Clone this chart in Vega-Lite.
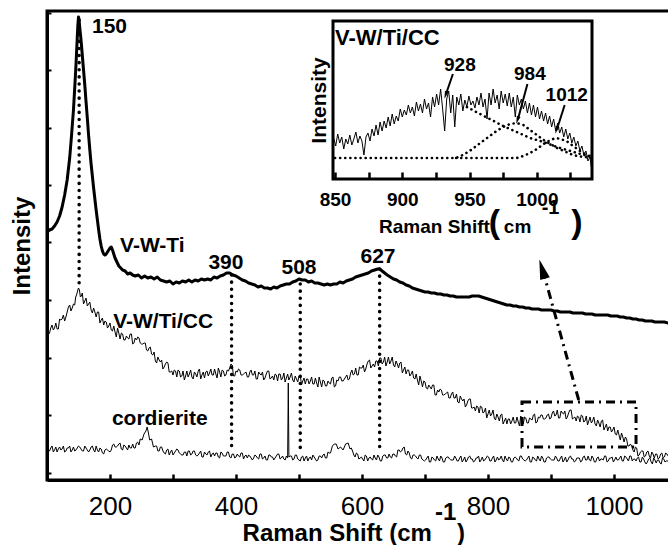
{
"$schema": "https://vega.github.io/schema/vega-lite/v6.json",
"width": 624, "height": 469,
"autosize": {"type": "none"},
"padding": {"left": 47, "top": 11, "right": 0, "bottom": 65},
"background": "white",
"config": {"view": {"stroke": "black", "strokeWidth": 3}, "font": "Liberation Sans", "axis": {"domainColor": "black", "tickColor": "black", "grid": false, "labelColor": "black", "titleColor": "black", "labelFont": "Liberation Sans", "titleFont": "Liberation Sans"}},
"datasets": {
"vwti": [{"x":100,"y":248},{"x":104,"y":250},{"x":108,"y":251},{"x":112,"y":254},{"x":116,"y":258},{"x":120,"y":264},{"x":124,"y":273},{"x":128,"y":285},{"x":132,"y":300},{"x":136,"y":322},{"x":139,"y":345},{"x":142,"y":370},{"x":144,"y":392},{"x":146,"y":415},{"x":148,"y":442},{"x":149,"y":455},{"x":150,"y":463},{"x":151,"y":460},{"x":152,"y":452},{"x":154,"y":440},{"x":156,"y":425},{"x":158,"y":410},{"x":160,"y":395},{"x":162,"y":378},{"x":164,"y":362},{"x":166,"y":345},{"x":168,"y":330},{"x":170,"y":316},{"x":172,"y":304},{"x":174,"y":292},{"x":176,"y":281},{"x":178,"y":270},{"x":180,"y":260},{"x":182,"y":250},{"x":184,"y":241},{"x":186,"y":234},{"x":188,"y":229},{"x":190,"y":226},{"x":192,"y":225},{"x":194,"y":226},{"x":196,"y":228},{"x":198,"y":230},{"x":200,"y":232},{"x":202,"y":233},{"x":204,"y":230},{"x":206,"y":226},{"x":208,"y":222},{"x":211,"y":218},{"x":214,"y":214},{"x":217,"y":212},{"x":220,"y":210},{"x":224,"y":209},{"x":228,"y":206},{"x":232,"y":207},{"x":236,"y":205},{"x":240,"y":204},{"x":245,"y":205},{"x":250,"y":202},{"x":255,"y":204},{"x":260,"y":202},{"x":265,"y":203},{"x":270,"y":201},{"x":275,"y":203},{"x":280,"y":200},{"x":285,"y":199},{"x":290,"y":198},{"x":295,"y":199},{"x":300,"y":196},{"x":305,"y":198},{"x":310,"y":197},{"x":315,"y":199},{"x":320,"y":198},{"x":325,"y":200},{"x":330,"y":198},{"x":335,"y":200},{"x":340,"y":199},{"x":345,"y":201},{"x":350,"y":200},{"x":355,"y":201},{"x":360,"y":200},{"x":365,"y":203},{"x":370,"y":202},{"x":375,"y":204},{"x":380,"y":205},{"x":385,"y":207},{"x":390,"y":207},{"x":395,"y":205},{"x":400,"y":204},{"x":405,"y":202},{"x":410,"y":200},{"x":415,"y":199},{"x":420,"y":197},{"x":425,"y":196},{"x":430,"y":195},{"x":435,"y":193},{"x":440,"y":194},{"x":445,"y":192},{"x":450,"y":192},{"x":455,"y":191},{"x":460,"y":193},{"x":465,"y":192},{"x":470,"y":194},{"x":475,"y":195},{"x":480,"y":196},{"x":485,"y":196},{"x":490,"y":198},{"x":495,"y":199},{"x":500,"y":201},{"x":505,"y":200},{"x":510,"y":200},{"x":515,"y":198},{"x":520,"y":199},{"x":525,"y":197},{"x":530,"y":197},{"x":535,"y":196},{"x":540,"y":195},{"x":545,"y":196},{"x":550,"y":195},{"x":555,"y":196},{"x":560,"y":196},{"x":565,"y":198},{"x":570,"y":197},{"x":575,"y":199},{"x":580,"y":200},{"x":585,"y":201},{"x":590,"y":203},{"x":595,"y":204},{"x":600,"y":205},{"x":605,"y":206},{"x":610,"y":207},{"x":615,"y":209},{"x":620,"y":210},{"x":625,"y":211},{"x":628,"y":211},{"x":632,"y":209},{"x":636,"y":207},{"x":640,"y":205},{"x":645,"y":203},{"x":650,"y":201},{"x":655,"y":200},{"x":660,"y":198},{"x":665,"y":197},{"x":670,"y":195},{"x":675,"y":194},{"x":680,"y":192},{"x":685,"y":191},{"x":690,"y":190},{"x":695,"y":189},{"x":700,"y":188},{"x":705,"y":188},{"x":710,"y":187},{"x":715,"y":187},{"x":720,"y":186},{"x":725,"y":186},{"x":730,"y":185},{"x":735,"y":185},{"x":740,"y":184},{"x":745,"y":184},{"x":750,"y":183},{"x":755,"y":183},{"x":760,"y":183},{"x":765,"y":183},{"x":770,"y":183},{"x":775,"y":184},{"x":780,"y":184},{"x":785,"y":184},{"x":790,"y":183},{"x":795,"y":182},{"x":800,"y":181},{"x":805,"y":180},{"x":810,"y":179},{"x":815,"y":178},{"x":820,"y":177},{"x":825,"y":176},{"x":830,"y":175},{"x":835,"y":175},{"x":840,"y":174},{"x":845,"y":174},{"x":850,"y":173},{"x":855,"y":173},{"x":860,"y":172},{"x":865,"y":172},{"x":870,"y":171},{"x":875,"y":171},{"x":880,"y":171},{"x":885,"y":170},{"x":890,"y":170},{"x":895,"y":170},{"x":900,"y":170},{"x":905,"y":169},{"x":910,"y":169},{"x":915,"y":168},{"x":920,"y":168},{"x":925,"y":168},{"x":930,"y":168},{"x":935,"y":167},{"x":940,"y":167},{"x":945,"y":167},{"x":950,"y":167},{"x":955,"y":166},{"x":960,"y":166},{"x":965,"y":166},{"x":970,"y":165},{"x":975,"y":165},{"x":980,"y":165},{"x":985,"y":165},{"x":990,"y":165},{"x":995,"y":164},{"x":1000,"y":164},{"x":1005,"y":164},{"x":1010,"y":163},{"x":1015,"y":163},{"x":1020,"y":162},{"x":1025,"y":162},{"x":1030,"y":161},{"x":1035,"y":161},{"x":1040,"y":160},{"x":1045,"y":160},{"x":1050,"y":159},{"x":1055,"y":159},{"x":1060,"y":159},{"x":1065,"y":158},{"x":1070,"y":158},{"x":1075,"y":158},{"x":1080,"y":158},{"x":1086,"y":157},{"x":1090,"y":157}],
"vwticc": [{"x":100,"y":150},{"x":104,"y":147},{"x":108,"y":155},{"x":112,"y":152},{"x":116,"y":151},{"x":120,"y":161},{"x":124,"y":161},{"x":128,"y":159},{"x":132,"y":168},{"x":136,"y":175},{"x":140,"y":172},{"x":144,"y":175},{"x":147,"y":185},{"x":150,"y":192},{"x":153,"y":183},{"x":156,"y":187},{"x":160,"y":179},{"x":164,"y":174},{"x":168,"y":178},{"x":172,"y":167},{"x":176,"y":168},{"x":180,"y":168},{"x":184,"y":157},{"x":188,"y":162},{"x":192,"y":159},{"x":196,"y":152},{"x":200,"y":157},{"x":204,"y":149},{"x":208,"y":148},{"x":212,"y":152},{"x":216,"y":141},{"x":220,"y":146},{"x":224,"y":140},{"x":228,"y":142},{"x":232,"y":146},{"x":236,"y":136},{"x":240,"y":142},{"x":244,"y":143},{"x":248,"y":137},{"x":252,"y":136},{"x":256,"y":137},{"x":260,"y":129},{"x":264,"y":133},{"x":268,"y":125},{"x":272,"y":119},{"x":276,"y":123},{"x":280,"y":118},{"x":284,"y":111},{"x":288,"y":116},{"x":292,"y":117},{"x":296,"y":108},{"x":300,"y":105},{"x":304,"y":109},{"x":308,"y":110},{"x":312,"y":103},{"x":316,"y":109},{"x":320,"y":104},{"x":324,"y":103},{"x":328,"y":110},{"x":332,"y":101},{"x":336,"y":106},{"x":340,"y":109},{"x":344,"y":101},{"x":348,"y":108},{"x":352,"y":108},{"x":356,"y":104},{"x":360,"y":111},{"x":364,"y":105},{"x":368,"y":106},{"x":372,"y":112},{"x":376,"y":103},{"x":380,"y":109},{"x":384,"y":105},{"x":388,"y":109},{"x":392,"y":116},{"x":396,"y":104},{"x":400,"y":109},{"x":404,"y":111},{"x":408,"y":105},{"x":412,"y":106},{"x":416,"y":108},{"x":420,"y":103},{"x":424,"y":110},{"x":428,"y":105},{"x":432,"y":101},{"x":436,"y":108},{"x":440,"y":105},{"x":444,"y":100},{"x":448,"y":106},{"x":452,"y":109},{"x":456,"y":102},{"x":460,"y":100},{"x":464,"y":105},{"x":468,"y":106},{"x":472,"y":100},{"x":476,"y":107},{"x":480,"y":102},{"x":484,"y":100},{"x":488,"y":107},{"x":492,"y":98},{"x":496,"y":101},{"x":500,"y":104},{"x":504,"y":95},{"x":508,"y":102},{"x":512,"y":101},{"x":516,"y":96},{"x":520,"y":103},{"x":524,"y":96},{"x":528,"y":97},{"x":532,"y":103},{"x":536,"y":93},{"x":540,"y":99},{"x":544,"y":94},{"x":548,"y":97},{"x":552,"y":102},{"x":556,"y":93},{"x":560,"y":100},{"x":564,"y":103},{"x":568,"y":99},{"x":572,"y":101},{"x":576,"y":105},{"x":580,"y":101},{"x":584,"y":110},{"x":588,"y":106},{"x":592,"y":105},{"x":596,"y":113},{"x":600,"y":112},{"x":604,"y":108},{"x":608,"y":116},{"x":612,"y":120},{"x":616,"y":114},{"x":620,"y":113},{"x":624,"y":119},{"x":628,"y":122},{"x":632,"y":116},{"x":636,"y":123},{"x":640,"y":118},{"x":644,"y":116},{"x":648,"y":123},{"x":652,"y":113},{"x":656,"y":116},{"x":660,"y":117},{"x":664,"y":107},{"x":668,"y":113},{"x":672,"y":110},{"x":676,"y":104},{"x":680,"y":109},{"x":684,"y":101},{"x":688,"y":100},{"x":692,"y":104},{"x":696,"y":93},{"x":700,"y":98},{"x":704,"y":91},{"x":708,"y":93},{"x":712,"y":95},{"x":716,"y":85},{"x":720,"y":90},{"x":724,"y":91},{"x":728,"y":85},{"x":732,"y":86},{"x":736,"y":88},{"x":740,"y":82},{"x":744,"y":88},{"x":748,"y":82},{"x":752,"y":78},{"x":756,"y":84},{"x":760,"y":79},{"x":764,"y":73},{"x":768,"y":79},{"x":772,"y":81},{"x":776,"y":72},{"x":780,"y":69},{"x":784,"y":73},{"x":788,"y":74},{"x":792,"y":67},{"x":796,"y":72},{"x":800,"y":66},{"x":804,"y":64},{"x":808,"y":70},{"x":812,"y":60},{"x":816,"y":63},{"x":820,"y":65},{"x":824,"y":56},{"x":828,"y":62},{"x":832,"y":61},{"x":836,"y":56},{"x":840,"y":63},{"x":844,"y":57},{"x":848,"y":58},{"x":852,"y":64},{"x":856,"y":56},{"x":860,"y":62},{"x":864,"y":57},{"x":868,"y":61},{"x":872,"y":65},{"x":876,"y":57},{"x":880,"y":63},{"x":884,"y":65},{"x":888,"y":61},{"x":892,"y":62},{"x":896,"y":66},{"x":900,"y":62},{"x":904,"y":69},{"x":908,"y":65},{"x":912,"y":62},{"x":916,"y":69},{"x":920,"y":66},{"x":924,"y":61},{"x":928,"y":67},{"x":932,"y":70},{"x":936,"y":62},{"x":940,"y":59},{"x":944,"y":63},{"x":948,"y":65},{"x":952,"y":58},{"x":956,"y":64},{"x":960,"y":59},{"x":964,"y":57},{"x":968,"y":63},{"x":972,"y":54},{"x":976,"y":57},{"x":980,"y":59},{"x":984,"y":50},{"x":988,"y":56},{"x":992,"y":53},{"x":996,"y":48},{"x":1000,"y":53},{"x":1004,"y":45},{"x":1008,"y":45},{"x":1012,"y":47},{"x":1016,"y":38},{"x":1020,"y":41},{"x":1024,"y":34},{"x":1028,"y":34},{"x":1032,"y":28},{"x":1036,"y":32},{"x":1040,"y":25},{"x":1044,"y":29},{"x":1048,"y":23},{"x":1052,"y":28},{"x":1056,"y":24},{"x":1060,"y":28},{"x":1064,"y":22},{"x":1068,"y":26},{"x":1072,"y":22},{"x":1076,"y":27},{"x":1080,"y":23},{"x":1084,"y":26},{"x":1086,"y":24},{"x":1090,"y":25},
{"x":102,"y":145},{"x":106,"y":152},{"x":110,"y":150},{"x":114,"y":157},{"x":118,"y":151},{"x":122,"y":160},{"x":126,"y":165},{"x":130,"y":163},{"x":134,"y":173},{"x":138,"y":169},{"x":142,"y":176},{"x":145.5,"y":183},{"x":148.5,"y":189},{"x":151.5,"y":190},{"x":154.5,"y":184},{"x":158,"y":176},{"x":162,"y":182},{"x":166,"y":176},{"x":170,"y":170},{"x":174,"y":172},{"x":178,"y":163},{"x":182,"y":168},{"x":186,"y":160},{"x":190,"y":155},{"x":194,"y":158},{"x":198,"y":154},{"x":202,"y":150},{"x":206,"y":154},{"x":210,"y":143},{"x":214,"y":147},{"x":218,"y":147},{"x":222,"y":140},{"x":226,"y":144},{"x":230,"y":141},{"x":234,"y":146},{"x":238,"y":137},{"x":242,"y":140},{"x":246,"y":142},{"x":250,"y":136},{"x":254,"y":137},{"x":258,"y":130},{"x":262,"y":132},{"x":266,"y":126},{"x":270,"y":128},{"x":274,"y":117},{"x":278,"y":120},{"x":282,"y":120},{"x":286,"y":113},{"x":290,"y":118},{"x":294,"y":108},{"x":298,"y":109},{"x":302,"y":110},{"x":306,"y":103},{"x":310,"y":109},{"x":314,"y":104},{"x":318,"y":100},{"x":322,"y":109},{"x":326,"y":106},{"x":330,"y":103},{"x":334,"y":108},{"x":338,"y":103},{"x":342,"y":111},{"x":346,"y":105},{"x":350,"y":102},{"x":354,"y":109},{"x":358,"y":107},{"x":362,"y":105},{"x":366,"y":111},{"x":370,"y":102},{"x":374,"y":108},{"x":378,"y":110},{"x":382,"y":104},{"x":386,"y":110},{"x":390,"y":112},{"x":394,"y":115},{"x":398,"y":104},{"x":402,"y":108},{"x":406,"y":110},{"x":410,"y":105},{"x":414,"y":107},{"x":418,"y":103},{"x":422,"y":108},{"x":426,"y":105},{"x":430,"y":109},{"x":434,"y":101},{"x":438,"y":106},{"x":442,"y":108},{"x":446,"y":102},{"x":450,"y":109},{"x":454,"y":101},{"x":458,"y":104},{"x":462,"y":106},{"x":466,"y":99},{"x":470,"y":106},{"x":474,"y":102},{"x":478,"y":98},{"x":482,"y":106},{"x":486,"y":103},{"x":490,"y":100},{"x":494,"y":104},{"x":498,"y":98},{"x":502,"y":105},{"x":506,"y":99},{"x":510,"y":96},{"x":514,"y":101},{"x":518,"y":99},{"x":522,"y":96},{"x":526,"y":102},{"x":530,"y":93},{"x":534,"y":98},{"x":538,"y":100},{"x":542,"y":94},{"x":546,"y":99},{"x":550,"y":96},{"x":554,"y":103},{"x":558,"y":94},{"x":562,"y":99},{"x":566,"y":103},{"x":570,"y":99},{"x":574,"y":103},{"x":578,"y":100},{"x":582,"y":107},{"x":586,"y":105},{"x":590,"y":112},{"x":594,"y":105},{"x":598,"y":112},{"x":602,"y":115},{"x":606,"y":111},{"x":610,"y":119},{"x":614,"y":112},{"x":618,"y":116},{"x":622,"y":119},{"x":626,"y":114},{"x":630,"y":122},{"x":634,"y":118},{"x":638,"y":114},{"x":642,"y":123},{"x":646,"y":119},{"x":650,"y":115},{"x":654,"y":119},{"x":658,"y":112},{"x":662,"y":118},{"x":666,"y":110},{"x":670,"y":106},{"x":674,"y":110},{"x":678,"y":106},{"x":682,"y":102},{"x":686,"y":106},{"x":690,"y":95},{"x":694,"y":99},{"x":698,"y":99},{"x":702,"y":92},{"x":706,"y":95},{"x":710,"y":91},{"x":714,"y":95},{"x":718,"y":85},{"x":722,"y":88},{"x":726,"y":90},{"x":730,"y":85},{"x":734,"y":87},{"x":738,"y":82},{"x":742,"y":86},{"x":746,"y":82},{"x":750,"y":86},{"x":754,"y":77},{"x":758,"y":81},{"x":762,"y":81},{"x":766,"y":75},{"x":770,"y":81},{"x":774,"y":72},{"x":778,"y":73},{"x":782,"y":74},{"x":786,"y":67},{"x":790,"y":73},{"x":794,"y":68},{"x":798,"y":62},{"x":802,"y":70},{"x":806,"y":66},{"x":810,"y":62},{"x":814,"y":66},{"x":818,"y":59},{"x":822,"y":66},{"x":826,"y":59},{"x":830,"y":56},{"x":834,"y":61},{"x":838,"y":59},{"x":842,"y":57},{"x":846,"y":63},{"x":850,"y":54},{"x":854,"y":60},{"x":858,"y":63},{"x":862,"y":57},{"x":866,"y":62},{"x":870,"y":60},{"x":874,"y":66},{"x":878,"y":58},{"x":882,"y":62},{"x":886,"y":65},{"x":890,"y":61},{"x":894,"y":65},{"x":898,"y":61},{"x":902,"y":67},{"x":906,"y":64},{"x":910,"y":70},{"x":914,"y":62},{"x":918,"y":67},{"x":922,"y":69},{"x":926,"y":63},{"x":930,"y":70},{"x":934,"y":61},{"x":938,"y":63},{"x":942,"y":64},{"x":946,"y":58},{"x":950,"y":64},{"x":954,"y":59},{"x":958,"y":55},{"x":962,"y":63},{"x":966,"y":59},{"x":970,"y":56},{"x":974,"y":60},{"x":978,"y":53},{"x":982,"y":60},{"x":986,"y":53},{"x":990,"y":49},{"x":994,"y":53},{"x":998,"y":50},{"x":1002,"y":46},{"x":1006,"y":50},{"x":1010,"y":40},{"x":1014,"y":43},{"x":1018,"y":43},{"x":1022,"y":34},{"x":1026,"y":36},{"x":1030,"y":30},{"x":1034,"y":33},{"x":1038,"y":24},{"x":1042,"y":28},{"x":1046,"y":29},{"x":1050,"y":24},{"x":1054,"y":29},{"x":1058,"y":22},{"x":1062,"y":26},{"x":1066,"y":26},{"x":1070,"y":21},{"x":1074,"y":26},{"x":1078,"y":22},{"x":1082,"y":27},{"x":1088,"y":22}],
"cord": [{"x":100,"y":32},{"x":104,"y":29},{"x":108,"y":34},{"x":112,"y":30},{"x":116,"y":28},{"x":120,"y":33},{"x":124,"y":31},{"x":128,"y":28},{"x":132,"y":32},{"x":136,"y":34},{"x":140,"y":30},{"x":144,"y":29},{"x":148,"y":32},{"x":152,"y":33},{"x":156,"y":29},{"x":160,"y":34},{"x":164,"y":30},{"x":168,"y":30},{"x":172,"y":34},{"x":176,"y":28},{"x":180,"y":30},{"x":184,"y":32},{"x":188,"y":27},{"x":192,"y":30},{"x":196,"y":30},{"x":200,"y":28},{"x":204,"y":35},{"x":208,"y":33},{"x":212,"y":34},{"x":216,"y":37},{"x":220,"y":30},{"x":224,"y":34},{"x":228,"y":30},{"x":232,"y":32},{"x":236,"y":36},{"x":240,"y":32},{"x":244,"y":38},{"x":248,"y":41},{"x":251,"y":40},{"x":254,"y":46},{"x":257,"y":49},{"x":259,"y":53},{"x":261,"y":47},{"x":263,"y":40},{"x":266,"y":41},{"x":269,"y":33},{"x":272,"y":34},{"x":276,"y":29},{"x":280,"y":33},{"x":284,"y":29},{"x":288,"y":26},{"x":292,"y":31},{"x":296,"y":28},{"x":300,"y":25},{"x":304,"y":29},{"x":308,"y":30},{"x":312,"y":26},{"x":316,"y":25},{"x":320,"y":28},{"x":324,"y":29},{"x":328,"y":25},{"x":332,"y":29},{"x":336,"y":25},{"x":340,"y":25},{"x":344,"y":29},{"x":348,"y":23},{"x":352,"y":26},{"x":356,"y":28},{"x":360,"y":23},{"x":364,"y":27},{"x":368,"y":27},{"x":372,"y":23},{"x":376,"y":28},{"x":380,"y":24},{"x":384,"y":24},{"x":388,"y":28},{"x":392,"y":22},{"x":396,"y":26},{"x":400,"y":23},{"x":404,"y":24},{"x":408,"y":27},{"x":412,"y":21},{"x":416,"y":25},{"x":420,"y":25},{"x":424,"y":22},{"x":428,"y":22},{"x":432,"y":24},{"x":436,"y":21},{"x":440,"y":26},{"x":444,"y":22},{"x":448,"y":20},{"x":452,"y":25},{"x":456,"y":23},{"x":460,"y":20},{"x":464,"y":24},{"x":468,"y":26},{"x":472,"y":22},{"x":476,"y":21},{"x":480,"y":24},{"x":482,"y":22},{"x":483,"y":97},{"x":484,"y":23},{"x":486,"y":24},{"x":490,"y":20},{"x":494,"y":25},{"x":498,"y":21},{"x":502,"y":19},{"x":506,"y":24},{"x":510,"y":22},{"x":514,"y":19},{"x":518,"y":23},{"x":522,"y":25},{"x":526,"y":21},{"x":530,"y":20},{"x":534,"y":24},{"x":538,"y":25},{"x":542,"y":22},{"x":546,"y":28},{"x":550,"y":27},{"x":553,"y":34},{"x":556,"y":36},{"x":559,"y":36},{"x":562,"y":31},{"x":566,"y":33},{"x":570,"y":30},{"x":574,"y":36},{"x":578,"y":37},{"x":581,"y":31},{"x":585,"y":29},{"x":589,"y":23},{"x":593,"y":26},{"x":597,"y":22},{"x":601,"y":21},{"x":605,"y":25},{"x":609,"y":19},{"x":613,"y":23},{"x":617,"y":20},{"x":621,"y":22},{"x":625,"y":25},{"x":629,"y":19},{"x":633,"y":24},{"x":637,"y":25},{"x":641,"y":22},{"x":645,"y":23},{"x":649,"y":26},{"x":653,"y":24},{"x":657,"y":30},{"x":661,"y":28},{"x":665,"y":32},{"x":669,"y":26},{"x":673,"y":29},{"x":677,"y":22},{"x":681,"y":25},{"x":685,"y":24},{"x":689,"y":21},{"x":693,"y":25},{"x":697,"y":20},{"x":701,"y":20},{"x":705,"y":24},{"x":709,"y":18},{"x":713,"y":22},{"x":717,"y":19},{"x":721,"y":21},{"x":725,"y":24},{"x":729,"y":18},{"x":733,"y":22},{"x":737,"y":23},{"x":741,"y":20},{"x":745,"y":20},{"x":749,"y":22},{"x":753,"y":19},{"x":757,"y":24},{"x":761,"y":20},{"x":765,"y":18},{"x":769,"y":23},{"x":773,"y":21},{"x":777,"y":18},{"x":781,"y":22},{"x":785,"y":24},{"x":789,"y":20},{"x":793,"y":19},{"x":797,"y":22},{"x":801,"y":23},{"x":805,"y":19},{"x":809,"y":24},{"x":813,"y":20},{"x":817,"y":20},{"x":821,"y":24},{"x":825,"y":18},{"x":829,"y":21},{"x":833,"y":23},{"x":837,"y":18},{"x":841,"y":22},{"x":845,"y":22},{"x":849,"y":19},{"x":853,"y":24},{"x":857,"y":20},{"x":861,"y":20},{"x":865,"y":24},{"x":869,"y":18},{"x":873,"y":22},{"x":877,"y":19},{"x":881,"y":21},{"x":885,"y":24},{"x":889,"y":18},{"x":893,"y":22},{"x":897,"y":23},{"x":901,"y":20},{"x":905,"y":20},{"x":909,"y":22},{"x":913,"y":19},{"x":917,"y":24},{"x":921,"y":20},{"x":925,"y":18},{"x":929,"y":23},{"x":933,"y":21},{"x":937,"y":18},{"x":941,"y":22},{"x":945,"y":22},{"x":949,"y":19},{"x":953,"y":24},{"x":957,"y":20},{"x":961,"y":20},{"x":965,"y":24},{"x":969,"y":18},{"x":973,"y":22},{"x":977,"y":19},{"x":981,"y":21},{"x":985,"y":24},{"x":989,"y":18},{"x":993,"y":22},{"x":997,"y":23},{"x":1001,"y":20},{"x":1005,"y":20},{"x":1009,"y":22},{"x":1013,"y":19},{"x":1017,"y":24},{"x":1021,"y":21},{"x":1025,"y":24},{"x":1029,"y":19},{"x":1033,"y":21},{"x":1037,"y":22},{"x":1041,"y":18},{"x":1045,"y":23},{"x":1049,"y":18},{"x":1053,"y":18},{"x":1057,"y":22},{"x":1061,"y":16},{"x":1065,"y":20},{"x":1069,"y":20},{"x":1073,"y":17},{"x":1077,"y":22},{"x":1081,"y":18},{"x":1086,"y":19},{"x":1090,"y":18},
{"x":102,"y":29},{"x":106,"y":32},{"x":110,"y":28},{"x":114,"y":33},{"x":118,"y":31},{"x":122,"y":30},{"x":126,"y":34},{"x":130,"y":29},{"x":134,"y":32},{"x":138,"y":28},{"x":142,"y":33},{"x":146,"y":30},{"x":150,"y":34},{"x":154,"y":31},{"x":158,"y":29},{"x":162,"y":32},{"x":166,"y":28},{"x":170,"y":33},{"x":174,"y":30},{"x":178,"y":34},{"x":182,"y":28},{"x":186,"y":31},{"x":190,"y":26},{"x":194,"y":31},{"x":198,"y":29},{"x":202,"y":30},{"x":206,"y":36},{"x":210,"y":33},{"x":214,"y":36},{"x":218,"y":31},{"x":222,"y":35},{"x":226,"y":32},{"x":230,"y":35},{"x":234,"y":32},{"x":238,"y":32},{"x":242,"y":37},{"x":246,"y":35},{"x":274,"y":34},{"x":278,"y":29},{"x":282,"y":33},{"x":286,"y":27},{"x":290,"y":30},{"x":294,"y":25},{"x":298,"y":30},{"x":302,"y":27},{"x":306,"y":31},{"x":310,"y":27},{"x":314,"y":25},{"x":318,"y":28},{"x":322,"y":24},{"x":326,"y":29},{"x":330,"y":26},{"x":334,"y":29},{"x":338,"y":24},{"x":342,"y":27},{"x":346,"y":23},{"x":350,"y":28},{"x":354,"y":25},{"x":358,"y":29},{"x":362,"y":26},{"x":366,"y":24},{"x":370,"y":27},{"x":374,"y":22},{"x":378,"y":27},{"x":382,"y":24},{"x":386,"y":28},{"x":390,"y":23},{"x":394,"y":26},{"x":398,"y":22},{"x":402,"y":26},{"x":406,"y":23},{"x":410,"y":27},{"x":414,"y":24},{"x":418,"y":22},{"x":422,"y":24},{"x":426,"y":20},{"x":430,"y":25},{"x":434,"y":22},{"x":438,"y":26},{"x":442,"y":21},{"x":446,"y":24},{"x":450,"y":20},{"x":454,"y":25},{"x":458,"y":23},{"x":462,"y":22},{"x":466,"y":26},{"x":470,"y":21},{"x":474,"y":24},{"x":478,"y":20},{"x":488,"y":24},{"x":492,"y":21},{"x":496,"y":25},{"x":500,"y":20},{"x":504,"y":23},{"x":508,"y":19},{"x":512,"y":24},{"x":516,"y":22},{"x":520,"y":20},{"x":524,"y":23},{"x":528,"y":19},{"x":532,"y":24},{"x":536,"y":22},{"x":540,"y":26},{"x":544,"y":22},{"x":548,"y":27},{"x":583,"y":32},{"x":587,"y":25},{"x":591,"y":27},{"x":595,"y":21},{"x":599,"y":23},{"x":603,"y":19},{"x":607,"y":24},{"x":611,"y":22},{"x":615,"y":21},{"x":619,"y":25},{"x":623,"y":20},{"x":627,"y":23},{"x":631,"y":19},{"x":635,"y":25},{"x":639,"y":22},{"x":643,"y":26},{"x":647,"y":22},{"x":651,"y":26},{"x":655,"y":23},{"x":659,"y":30},{"x":663,"y":29},{"x":667,"y":33},{"x":671,"y":25},{"x":675,"y":27},{"x":679,"y":21},{"x":683,"y":25},{"x":687,"y":22},{"x":691,"y":25},{"x":695,"y":21},{"x":699,"y":19},{"x":703,"y":22},{"x":707,"y":18},{"x":711,"y":23},{"x":715,"y":20},{"x":719,"y":24},{"x":723,"y":19},{"x":727,"y":22},{"x":731,"y":18},{"x":735,"y":23},{"x":739,"y":21},{"x":743,"y":20},{"x":747,"y":24},{"x":751,"y":19},{"x":755,"y":22},{"x":759,"y":18},{"x":763,"y":23},{"x":767,"y":20},{"x":771,"y":24},{"x":775,"y":21},{"x":779,"y":19},{"x":783,"y":22},{"x":787,"y":18},{"x":791,"y":23},{"x":795,"y":20},{"x":799,"y":24},{"x":803,"y":19},{"x":807,"y":22},{"x":811,"y":18},{"x":815,"y":23},{"x":819,"y":21},{"x":823,"y":20},{"x":827,"y":24},{"x":831,"y":19},{"x":835,"y":22},{"x":839,"y":18},{"x":843,"y":23},{"x":847,"y":20},{"x":851,"y":24},{"x":855,"y":21},{"x":859,"y":19},{"x":863,"y":22},{"x":867,"y":18},{"x":871,"y":23},{"x":875,"y":20},{"x":879,"y":24},{"x":883,"y":19},{"x":887,"y":22},{"x":891,"y":18},{"x":895,"y":23},{"x":899,"y":21},{"x":903,"y":20},{"x":907,"y":24},{"x":911,"y":19},{"x":915,"y":22},{"x":919,"y":18},{"x":923,"y":23},{"x":927,"y":20},{"x":931,"y":24},{"x":935,"y":21},{"x":939,"y":19},{"x":943,"y":22},{"x":947,"y":18},{"x":951,"y":23},{"x":955,"y":20},{"x":959,"y":24},{"x":963,"y":19},{"x":967,"y":22},{"x":971,"y":18},{"x":975,"y":23},{"x":979,"y":21},{"x":983,"y":20},{"x":987,"y":24},{"x":991,"y":19},{"x":995,"y":22},{"x":999,"y":18},{"x":1003,"y":23},{"x":1007,"y":20},{"x":1011,"y":24},{"x":1015,"y":19},{"x":1019,"y":23},{"x":1023,"y":19},{"x":1027,"y":24},{"x":1031,"y":21},{"x":1035,"y":19},{"x":1039,"y":23},{"x":1043,"y":18},{"x":1047,"y":21},{"x":1051,"y":16},{"x":1055,"y":21},{"x":1059,"y":18},{"x":1063,"y":22},{"x":1067,"y":17},{"x":1071,"y":20},{"x":1075,"y":16},{"x":1079,"y":21},{"x":1083,"y":19}],
"vlines": [{"x":151,"y":460,"y2":193},{"x":393,"y":205,"y2":31},{"x":502,"y":196,"y2":30},{"x":628,"y":211,"y2":33}],
"box": [{"x":854,"x2":1035,"y":33,"y2":78}],
"arrow": [{"x":944,"y":80,"x2":890,"y2":203}],
"arrowhead": [{"x":886,"y":211}],
"labL": [{"x":171.4,"y":447,"t":"150"},{"x":216,"y":228,"t":"V-W-Ti"},{"x":205,"y":152,"t":"V-W/Ti/CC"},{"x":203,"y":55,"t":"cordierite"}],
"labC": [{"x":384,"y":211,"t":"390"},{"x":500,"y":206,"t":"508"},{"x":625.4,"y":217,"t":"627"}],
"xtitle": [{"x":711,"y":-61,"t":"Raman Shift (cm"}],
"xtitleL": [{"x":716,"y":-40,"t":"-1"},{"x":751,"y":-61,"t":")"}],
"inset": [{"x":849,"y":41},{"x":850.5,"y":33},{"x":852,"y":45},{"x":853.5,"y":36},{"x":855,"y":42},{"x":856.5,"y":30},{"x":858,"y":40},{"x":859.5,"y":35},{"x":861,"y":44},{"x":862.5,"y":34},{"x":864,"y":40},{"x":865.5,"y":47},{"x":867,"y":36},{"x":868.5,"y":43},{"x":870,"y":38},{"x":871.5,"y":24},{"x":873,"y":42},{"x":874.5,"y":46},{"x":876,"y":38},{"x":877.5,"y":50},{"x":879,"y":43},{"x":880.5,"y":54},{"x":882,"y":44},{"x":883.5,"y":57},{"x":885,"y":48},{"x":886.5,"y":58},{"x":888,"y":51},{"x":889.5,"y":62},{"x":891,"y":53},{"x":892.5,"y":65},{"x":894,"y":55},{"x":895.5,"y":63},{"x":897,"y":58},{"x":898.5,"y":70},{"x":900,"y":62},{"x":901.5,"y":69},{"x":903,"y":64},{"x":904.5,"y":74},{"x":906,"y":66},{"x":907.5,"y":72},{"x":909,"y":63},{"x":910.5,"y":77},{"x":912,"y":68},{"x":913.5,"y":75},{"x":915,"y":66},{"x":916.5,"y":80},{"x":918,"y":70},{"x":919.5,"y":76},{"x":921,"y":62},{"x":922.5,"y":82},{"x":924,"y":72},{"x":925.5,"y":85},{"x":927,"y":74},{"x":928.5,"y":90},{"x":930,"y":70},{"x":931.5,"y":48},{"x":933,"y":80},{"x":934.5,"y":88},{"x":936,"y":66},{"x":937.5,"y":84},{"x":939,"y":52},{"x":940.5,"y":82},{"x":942,"y":74},{"x":943.5,"y":85},{"x":945,"y":68},{"x":946.5,"y":79},{"x":948,"y":72},{"x":949.5,"y":83},{"x":951,"y":74},{"x":952.5,"y":78},{"x":954,"y":71},{"x":955.5,"y":82},{"x":957,"y":74},{"x":958.5,"y":86},{"x":960,"y":72},{"x":961.5,"y":80},{"x":963,"y":60},{"x":964.5,"y":86},{"x":966,"y":74},{"x":967.5,"y":90},{"x":969,"y":76},{"x":970.5,"y":84},{"x":972,"y":70},{"x":973.5,"y":88},{"x":975,"y":76},{"x":976.5,"y":85},{"x":978,"y":73},{"x":979.5,"y":86},{"x":981,"y":72},{"x":982.5,"y":82},{"x":984,"y":62},{"x":985.5,"y":84},{"x":987,"y":74},{"x":988.5,"y":80},{"x":990,"y":70},{"x":991.5,"y":78},{"x":993,"y":66},{"x":994.5,"y":76},{"x":996,"y":64},{"x":997.5,"y":74},{"x":999,"y":62},{"x":1000.5,"y":72},{"x":1002,"y":60},{"x":1003.5,"y":68},{"x":1005,"y":58},{"x":1006.5,"y":66},{"x":1008,"y":55},{"x":1009.5,"y":63},{"x":1011,"y":52},{"x":1012.5,"y":60},{"x":1014,"y":48},{"x":1015.5,"y":56},{"x":1017,"y":46},{"x":1018.5,"y":52},{"x":1020,"y":42},{"x":1021.5,"y":50},{"x":1023,"y":40},{"x":1024.5,"y":46},{"x":1026,"y":36},{"x":1027.5,"y":42},{"x":1029,"y":33},{"x":1030.5,"y":38},{"x":1032,"y":28},{"x":1033.5,"y":33},{"x":1035,"y":24},{"x":1036.5,"y":28},{"x":1038,"y":18},{"x":1039.5,"y":22},{"x":1040.5,"y":12}],
"fit": [{"p":"a","x":948,"y":72},{"p":"a","x":955,"y":67},{"p":"a","x":965,"y":60},{"p":"a","x":975,"y":53},{"p":"a","x":985,"y":47},{"p":"a","x":995,"y":41},{"p":"a","x":1005,"y":37},{"p":"a","x":1015,"y":32},{"p":"a","x":1025,"y":28},{"p":"a","x":1035,"y":24},{"p":"a","x":1041,"y":23},
{"p":"b","x":850,"y":21},{"p":"b","x":940,"y":21},{"p":"b","x":945,"y":24},{"p":"b","x":950,"y":28},{"p":"b","x":955,"y":33},{"p":"b","x":960,"y":38},{"p":"b","x":965,"y":43},{"p":"b","x":970,"y":48},{"p":"b","x":975,"y":52},{"p":"b","x":980,"y":55},{"p":"b","x":985,"y":56},{"p":"b","x":990,"y":54},{"p":"b","x":995,"y":49},{"p":"b","x":1000,"y":44},{"p":"b","x":1005,"y":39},{"p":"b","x":1010,"y":35},{"p":"b","x":1015,"y":31},{"p":"b","x":1020,"y":28},{"p":"b","x":1025,"y":25},{"p":"b","x":1030,"y":23},{"p":"b","x":1035,"y":22},{"p":"b","x":1041,"y":21},
{"p":"c","x":940,"y":21},{"p":"c","x":985,"y":21},{"p":"c","x":990,"y":23},{"p":"c","x":995,"y":26},{"p":"c","x":1000,"y":30},{"p":"c","x":1005,"y":35},{"p":"c","x":1010,"y":39},{"p":"c","x":1014,"y":41},{"p":"c","x":1018,"y":40},{"p":"c","x":1023,"y":37},{"p":"c","x":1028,"y":32},{"p":"c","x":1033,"y":27},{"p":"c","x":1038,"y":23},{"p":"c","x":1041,"y":22}],
"iframe": [{"x":848.5,"x2":1041,"y":0,"y2":158}],
"iarrows": [{"x":937.6,"y":105,"x2":932.5,"y2":85},{"x":993,"y":95,"x2":986,"y2":60},{"x":1020.7,"y":74,"x2":1015,"y2":50}],
"iheads": [{"x":932.2,"y":84},{"x":985.6,"y":59},{"x":1014.6,"y":49}],
"ititle": [{"x":850,"y":134,"t":"V-W/Ti/CC"}],
"ilabels": [{"x":942.8,"y":108,"t":"928"},{"x":994.8,"y":99,"t":"984"},{"x":1022.2,"y":78,"t":"1012"}],
"ixt": [{"x":882.7,"y":-54,"t":"Raman Shift"},{"x":975.5,"y":-54,"t":"cm"}],
"ixsup": [{"x":1003.6,"y":-35,"t":"-1"}],
"ixparen": [{"x":964.3,"y":-54,"t":"("},{"x":1025.5,"y":-54,"t":")"}]
},
"layer": [
{
"encoding": {
"x": {"field": "x", "type": "quantitative", "scale": {"domain": [100, 1090.5], "nice": false, "zero": false},
 "axis": {"orient": "bottom", "values": [200,300,400,500,600,700,800,900,1000], "format": "d", "labelExpr": "datum.value % 200 === 0 ? datum.label : ''", "ticks": true, "tickSize": -6, "tickWidth": 2.5, "domainWidth": 3, "labelFontSize": 26, "labelPadding": 19, "labelFlush": false, "labelOverlap": false, "title": null}},
"y": {"field": "y", "type": "quantitative", "scale": {"domain": [0, 469], "nice": false, "zero": false},
 "axis": {"values": [7.5,65,122.5,180,237.5,295,352.5,410,467.5], "labels": false, "tickSize": -4, "tickWidth": 2, "domainWidth": 3, "title": "Intensity", "titleFontSize": 24, "titleFontWeight": "bold", "titlePadding": 12}}
},
"layer": [
{"data": {"name": "vwti"}, "mark": {"type": "line", "color": "black", "strokeWidth": 3, "strokeJoin": "round"}},
{"data": {"name": "vwticc"}, "mark": {"type": "line", "color": "black", "strokeWidth": 1}},
{"data": {"name": "cord"}, "mark": {"type": "line", "color": "black", "strokeWidth": 1}},
{"data": {"name": "vlines"}, "mark": {"type": "rule", "color": "black", "strokeWidth": 3.5, "strokeDash": [0.1, 7], "strokeCap": "round"}, "encoding": {"y2": {"field": "y2"}}},
{"data": {"name": "box"}, "mark": {"type": "rect", "fillOpacity": 0, "stroke": "black", "strokeWidth": 3, "strokeDash": [9, 5, 2, 5]}, "encoding": {"x2": {"field": "x2"}, "y2": {"field": "y2"}}},
{"data": {"name": "arrow"}, "mark": {"type": "rule", "color": "black", "strokeWidth": 3, "strokeDash": [9, 5, 2, 5]}, "encoding": {"x2": {"field": "x2"}, "y2": {"field": "y2"}}},
{"data": {"name": "arrowhead"}, "mark": {"type": "point", "shape": "M0,-1L0.5,1L-0.5,1Z", "filled": true, "color": "black", "opacity": 1, "size": 400, "angle": -16.5}},
{"data": {"name": "labL"}, "mark": {"type": "text", "align": "left", "baseline": "alphabetic", "fontSize": 21, "fontWeight": "bold", "color": "black"}, "encoding": {"text": {"field": "t"}}},
{"data": {"name": "labC"}, "mark": {"type": "text", "align": "center", "baseline": "alphabetic", "fontSize": 21, "fontWeight": "bold", "color": "black"}, "encoding": {"text": {"field": "t"}}},
{"data": {"name": "xtitle"}, "mark": {"type": "text", "align": "right", "baseline": "alphabetic", "fontSize": 24, "fontWeight": "bold", "color": "black"}, "encoding": {"text": {"field": "t"}}},
{"data": {"name": "xtitleL"}, "mark": {"type": "text", "align": "left", "baseline": "alphabetic", "fontSize": 24, "fontWeight": "bold", "color": "black"}, "encoding": {"text": {"field": "t"}}}
]
},
{
"encoding": {
"x": {"field": "x", "type": "quantitative", "scale": {"domain": [848.5, 1041], "range": [286, 545], "nice": false, "zero": false},
 "axis": {"orient": "bottom", "offset": -301, "values": [850,875,900,925,950,975,1000,1025], "format": "d", "labelExpr": "datum.value % 50 === 0 ? datum.label : ''", "ticks": true, "tickSize": -7, "tickWidth": 2.5, "domain": false, "labelFontSize": 19, "labelFontWeight": "bold", "labelPadding": 18, "labelFlush": false, "labelOverlap": false, "title": null}},
"y": {"field": "y", "type": "quantitative", "scale": {"domain": [0, 158], "range": [168, 10], "nice": false, "zero": false},
 "axis": {"orient": "left", "offset": -286, "labels": false, "ticks": false, "domain": false, "title": "Intensity", "titleFontSize": 21, "titleFontWeight": "bold", "titlePadding": 4}}
},
"layer": [
{"data": {"name": "iframe"}, "mark": {"type": "rect", "fillOpacity": 0, "stroke": "black", "strokeWidth": 3}, "encoding": {"x2": {"field": "x2"}, "y2": {"field": "y2"}}},
{"data": {"name": "inset"}, "mark": {"type": "line", "color": "black", "strokeWidth": 1}},
{"data": {"name": "fit"}, "mark": {"type": "line", "color": "black", "strokeWidth": 2.6, "strokeDash": [0.1, 5], "strokeCap": "round"}, "encoding": {"detail": {"field": "p"}}},
{"data": {"name": "iarrows"}, "mark": {"type": "rule", "color": "black", "strokeWidth": 2}, "encoding": {"x2": {"field": "x2"}, "y2": {"field": "y2"}}},
{"data": {"name": "iheads"}, "mark": {"type": "point", "shape": "M0,1L0.5,-1L-0.5,-1Z", "filled": true, "color": "black", "opacity": 1, "size": 60, "angle": 18}},
{"data": {"name": "ititle"}, "mark": {"type": "text", "align": "left", "baseline": "alphabetic", "fontSize": 22, "fontWeight": "bold", "color": "black"}, "encoding": {"text": {"field": "t"}}},
{"data": {"name": "ilabels"}, "mark": {"type": "text", "align": "center", "baseline": "alphabetic", "fontSize": 19, "fontWeight": "bold", "color": "black"}, "encoding": {"text": {"field": "t"}}},
{"data": {"name": "ixt"}, "mark": {"type": "text", "align": "left", "baseline": "alphabetic", "fontSize": 19, "fontWeight": "bold", "color": "black"}, "encoding": {"text": {"field": "t"}}},
{"data": {"name": "ixsup"}, "mark": {"type": "text", "align": "left", "baseline": "alphabetic", "fontSize": 20, "fontWeight": "bold", "color": "black"}, "encoding": {"text": {"field": "t"}}},
{"data": {"name": "ixparen"}, "mark": {"type": "text", "align": "left", "baseline": "alphabetic", "fontSize": 34, "fontWeight": "bold", "color": "black"}, "encoding": {"text": {"field": "t"}}}
]
}
],
"resolve": {"scale": {"x": "independent", "y": "independent"}, "axis": {"x": "independent", "y": "independent"}}
}
